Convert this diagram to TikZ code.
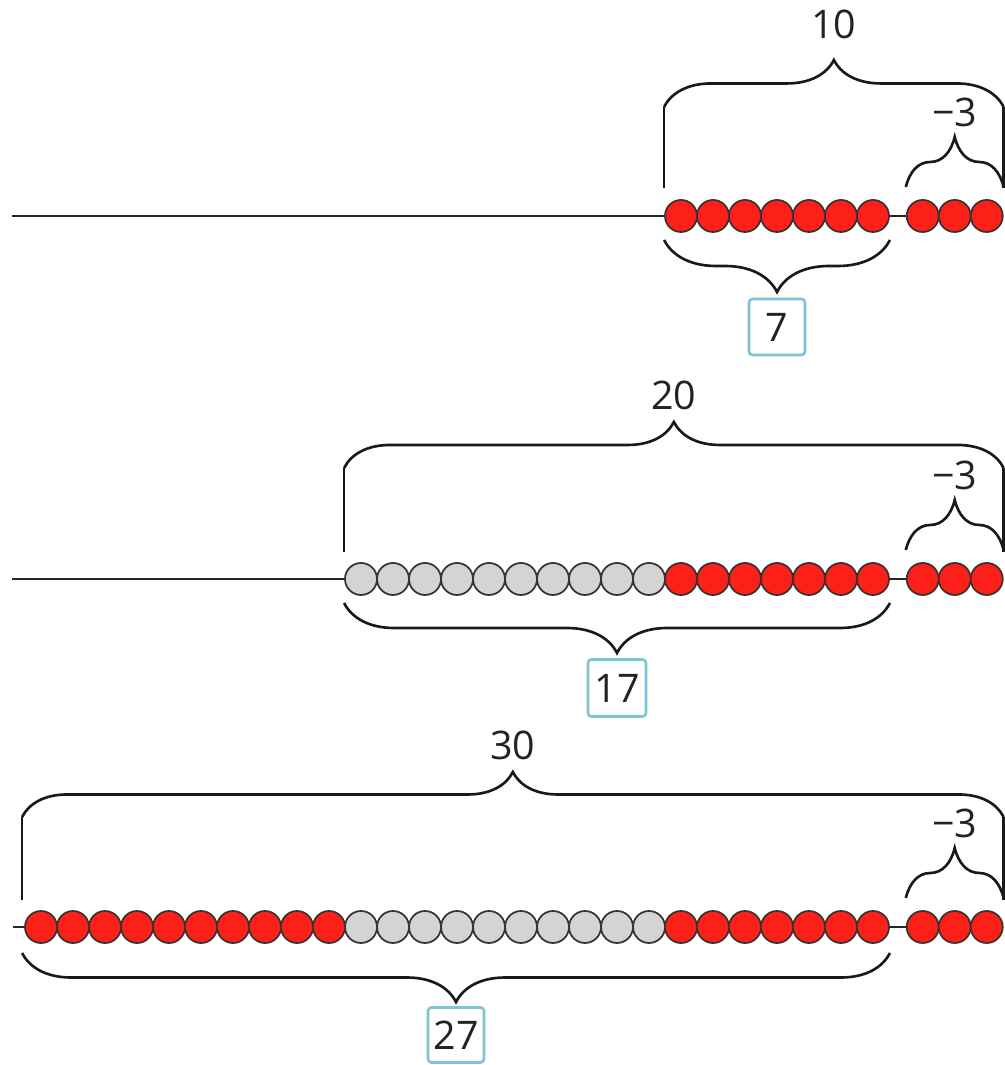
\documentclass[tikz,border=0pt]{standalone}
\usepackage{fontspec}
\setmainfont{Open Sans}
\usepackage{xcolor}
\usetikzlibrary{calc}
\usetikzlibrary{decorations.pathreplacing}
\definecolor{beadred}{RGB}{252,32,24}
\definecolor{beadgray}{RGB}{212,212,212}
\definecolor{beadline}{RGB}{60,50,50}
\definecolor{boxblue}{RGB}{124,196,214}
\definecolor{labelgray}{RGB}{35,35,35}
\tikzset{bead/.style={circle, draw=beadline, line width=0.5pt,
minimum size=0.32cm, inner sep=0pt},
redbead/.style={bead, fill=beadred}, graybead/.style={bead, fill=beadgray},
string/.style={line width=0.6pt, black!85},
bline/.style={line width=0.75pt, black!90},
curly/.style={bline, decorate, decoration={brace, amplitude=#1}},
numlabel/.style={text=labelgray, font=\fontsize{11.2}{13}\selectfont, inner sep=0pt},
answer/.style={numlabel, draw=boxblue, line width=0.75pt, rounded corners=1pt,
minimum width=0.56cm, minimum height=0.56cm}}

\begin{document}
\begin{tikzpicture}[x=0.01cm, y=0.01cm]
				\useasboundingbox (0,0) rectangle (1004,1065);

				% first string: 7 and 3 beads
				\coordinate (st1) at (12,849);
				\coordinate (en1) at (986,849);
				\draw[string] (st1) -- (en1);
				\foreach \i in {20,...,26} \node[redbead] (a\i) at (41+32*\i,849) {};
				\foreach \j in {1,2,3} \node[redbead] (at\j) at (890.7+32*\j,849) {};
				\draw[bline] ($(a20.west)+(0,28)$) -- ++(0,81) coordinate (a-l);
				\draw[bline] ($(at3.east)+(0,28)$) -- ++(0,81) coordinate (a-r);
				\draw[curly=0.47cm] (a-l) -- (a-r);
				\node[numlabel] (ten) at ($(a-l)!0.5!(a-r)+(0,83)$) {10};
				\coordinate (as-l) at ($(at1.west)+(0,29)$);
				\coordinate (as-r) at ($(at3.east)+(0,29)$);
				\draw[curly=0.5cm] (as-l) -- (as-r);
				\node[numlabel] (minusa) at ($(as-l)!0.5!(as-r)+(0,75)$) {−3};
				\coordinate (ab-l) at ($(a20.west)+(0,-24)$);
				\coordinate (ab-r) at ($(a26.east)+(0,-24)$);
				\draw[curly=0.52cm] (ab-r) -- (ab-l);
				\node[answer] (seven) at ($(ab-l)!0.5!(ab-r)+(0,-87)$) {7};

				% second string: 10 grey beads added
				\coordinate (st2) at (12,486);
				\coordinate (en2) at (986,486);
				\draw[string] (st2) -- (en2);
				\foreach \i in {10,...,19} \node[graybead] (b\i) at (41+32*\i,486) {};
				\foreach \i in {20,...,26} \node[redbead] (b\i) at (41+32*\i,486) {};
				\foreach \j in {1,2,3} \node[redbead] (bt\j) at (890.7+32*\j,486) {};
				\draw[bline] ($(b10.west)+(0,27)$) -- ++(0,84) coordinate (b-l);
				\draw[bline] ($(bt3.east)+(0,27)$) -- ++(0,84) coordinate (b-r);
				\draw[curly=0.46cm] (b-l) -- (b-r);
				\node[numlabel] (twenty) at ($(b-l)!0.5!(b-r)+(0,73)$) {20};
				\coordinate (bs-l) at ($(bt1.west)+(0,29)$);
				\coordinate (bs-r) at ($(bt3.east)+(0,29)$);
				\draw[curly=0.5cm] (bs-l) -- (bs-r);
				\node[numlabel] (minusb) at ($(bs-l)!0.5!(bs-r)+(0,75)$) {−3};
				\coordinate (bb-l) at ($(b10.west)+(0,-24)$);
				\coordinate (bb-r) at ($(b26.east)+(0,-24)$);
				\draw[curly=0.5cm] (bb-r) -- (bb-l);
				\node[answer, minimum width=0.58cm, minimum height=0.57cm] (seventeen) at ($(bb-l)!0.5!(bb-r)+(0,-85)$) {17};

				% third string: 10 red beads more
				\coordinate (st3) at (13,138);
				\coordinate (en3) at (986,138);
				\draw[string] (st3) -- (en3);
				\foreach \i in {0,...,9} \node[redbead] (c\i) at (41+32*\i,138) {};
				\foreach \i in {10,...,19} \node[graybead] (c\i) at (41+32*\i,138) {};
				\foreach \i in {20,...,26} \node[redbead] (c\i) at (41+32*\i,138) {};
				\foreach \j in {1,2,3} \node[redbead] (ct\j) at (890.7+32*\j,138) {};
				\draw[bline] ($(c0.west)+(-2,27)$) -- ++(0,83) coordinate (c-l);
				\draw[bline] ($(ct3.east)+(0,27)$) -- ++(0,83) coordinate (c-r);
				\draw[curly=0.45cm] (c-l) -- (c-r);
				\node[numlabel] (thirty) at ($(c-l)!0.5!(c-r)+(0,72)$) {30};
				\coordinate (cs-l) at ($(ct1.west)+(0,29)$);
				\coordinate (cs-r) at ($(ct3.east)+(0,29)$);
				\draw[curly=0.5cm] (cs-l) -- (cs-r);
				\node[numlabel] (minusc) at ($(cs-l)!0.5!(cs-r)+(0,75)$) {−3};
				\coordinate (cb-l) at ($(c0.west)+(-2,-26)$);
				\coordinate (cb-r) at ($(c26.east)+(0,-26)$);
				\draw[curly=0.49cm] (cb-r) -- (cb-l);
				\node[answer, minimum height=0.55cm] (twentyseven) at ($(cb-l)!0.5!(cb-r)+(0,-82)$) {27};
\end{tikzpicture}
\end{document}
